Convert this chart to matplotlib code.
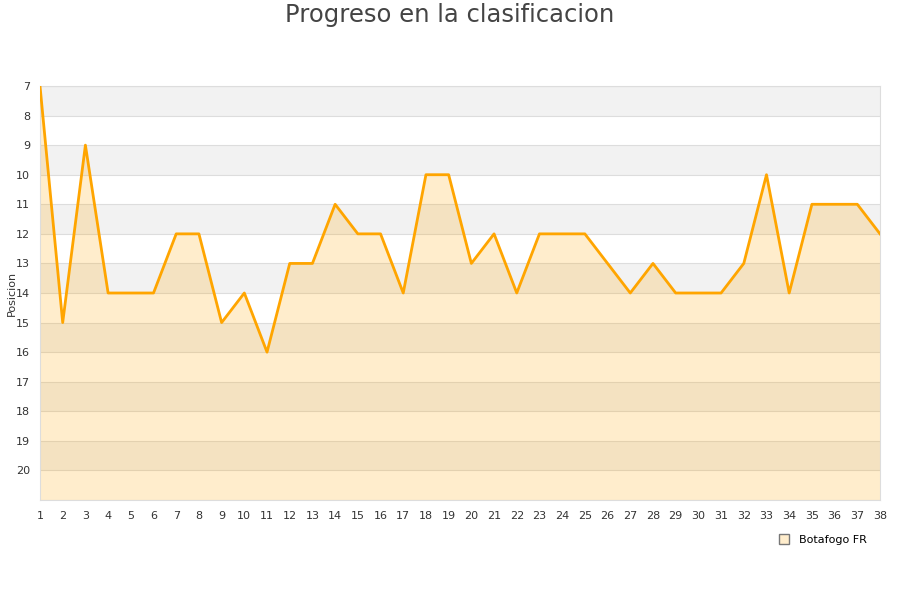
import matplotlib.pyplot as plt

# Jornadas y posicion de Botafogo FR
rounds = list(range(1, 39))
positions = [7, 15, 9, 14, 14, 14, 12, 12, 15, 14, 16, 13, 13, 11, 12, 12, 14, 10, 10, 13,
             12, 14, 12, 12, 12, 13, 14, 13, 14, 14, 14, 13, 10, 14, 11, 11, 11, 12]
y_ticks = list(range(7, 21))
team = 'Botafogo FR'
title = 'Progreso en la clasificacion'

fig = plt.figure(figsize=(9, 6), dpi=100)
ax = fig.add_axes([40 / 900, 1 - 500 / 600, 840 / 900, 414 / 600])

# alternating bands
for y0 in range(7, 21, 2):
    ax.axhspan(y0, y0 + 1, color='#f2f2f2', zorder=0, lw=0)
for y in range(7, 22):
    ax.axhline(y, color='#dddddd', lw=0.8, zorder=1)

ax.fill_between(rounds, positions, 21, color='#ffa500', alpha=0.2, lw=0, zorder=2)
ax.plot(rounds, positions, color='#ffa500', lw=2, zorder=3)
ax.plot([], [], marker='s', ls='none', markerfacecolor='#ffedcc',
        markeredgecolor='#777777', markersize=7, label=team)

ax.set_xlim(1, 38)
ax.set_ylim(21, 7)
ax.set_xticks(rounds)
ax.set_yticks(y_ticks)
ax.tick_params(axis='both', length=0, labelsize=8, colors='#333333')
ax.tick_params(axis='x', pad=8)
ax.tick_params(axis='y', pad=7)
ax.set_ylabel('Posicion', fontsize=8, color='#333333')
ax.yaxis.set_label_coords(-0.028, 0.5)

for s in ax.spines.values():
    s.set_color('#dddddd')
    s.set_linewidth(0.8)

fig.text(0.5, 0.995, title, ha='center', va='top', fontsize=17.5, color='#444444')
fig.legend(loc='center', bbox_to_anchor=(820 / 900, 1 - 540 / 600), frameon=False,
           fontsize=8, handletextpad=0.4)

fig.savefig('out.png', dpi=100)
